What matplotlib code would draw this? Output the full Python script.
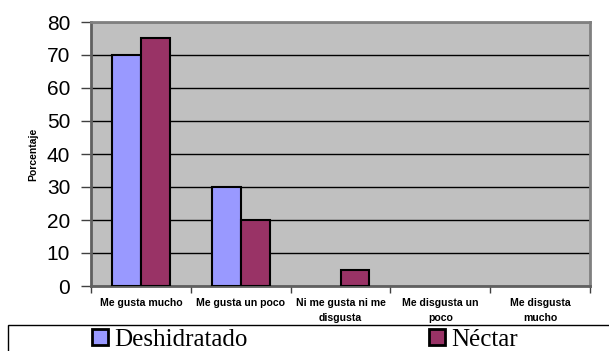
import matplotlib
matplotlib.use("Agg")
import matplotlib.pyplot as plt
from matplotlib.patches import Rectangle, Patch
import numpy as np

categories = ["Me gusta mucho", "Me gusta un poco", "Ni me gusta ni me\ndisgusta",
              "Me disgusta un\npoco", "Me disgusta\nmucho"]
deshidratado = [70, 30, 0, 0, 0]
nectar = [75, 20, 5, 0, 0]
series_names = ["Deshidratado", "Néctar"]
yticks = [0, 10, 20, 30, 40, 50, 60, 70, 80]

W, H = 609, 351
fig = plt.figure(figsize=(W / 100, H / 100), dpi=100)
fig.patch.set_facecolor("white")

ax = fig.add_axes([91 / W, 1 - 286 / H, 499 / W, 264 / H])
ax.set_facecolor("#C0C0C0")

x = np.arange(len(categories))
bw = 0.29
c1, c2 = "#9999FF", "#993366"
for offset, vals, col in [(-bw / 2, deshidratado, c1), (bw / 2, nectar, c2)]:
    bars = ax.bar(x + offset, vals, bw, color=col, edgecolor="black", linewidth=1.5, zorder=3)
    for b, v in zip(bars, vals):
        if v == 0:
            b.set_linewidth(0)

ax.set_xlim(-0.5, len(categories) - 0.5)
ax.set_ylim(0, 80)
ax.set_yticks(yticks)
ax.set_yticklabels([str(v) for v in yticks], fontsize=15, family="Liberation Sans")
ax.tick_params(axis="y", length=7, width=1, color="#404040", pad=8)
ax.yaxis.grid(True, color="black", linewidth=1, zorder=1)
ax.set_axisbelow(True)

ax.set_xticks(x)
ax.set_xticklabels(categories, fontsize=7.6, fontweight="bold", family="Liberation Sans",
                   linespacing=1.55, va="top")
ax.tick_params(axis="x", which="major", length=0, pad=9)
ax.set_xticks(np.arange(len(categories) + 1) - 0.5, minor=True)
ax.tick_params(axis="x", which="minor", length=5, width=1, color="#404040")

for s in ax.spines.values():
    s.set_color("#808080")
    s.set_linewidth(2)
ax.spines["bottom"].set_color("#606060")
ax.spines["left"].set_color("#606060")

ax.set_ylabel("Porcentaje", fontsize=7.5, fontweight="bold", family="Liberation Sans")
ax.yaxis.set_label_coords((38 - 91) / 499, 0.5)

# legend frame running off the bottom/right of the figure
fig.patches.append(Rectangle((8 / W, -0.1), 1.2, (1 - 325 / H) + 0.1,
                             transform=fig.transFigure, facecolor="white",
                             edgecolor="black", linewidth=1, zorder=0))

for name, col, mx in [(series_names[0], c1, 100), (series_names[1], c2, 437)]:
    h = Patch(facecolor=col, edgecolor="black", linewidth=2)
    fig.legend([h], [name], loc="center left",
               bbox_to_anchor=((mx - 8) / W, 1 - 340 / H),
               frameon=False, prop={"family": "Liberation Serif", "size": 18},
               handlelength=0.62, handleheight=0.62, handletextpad=0.25,
               borderpad=0, borderaxespad=0)

fig.savefig("out.png", dpi=100)
